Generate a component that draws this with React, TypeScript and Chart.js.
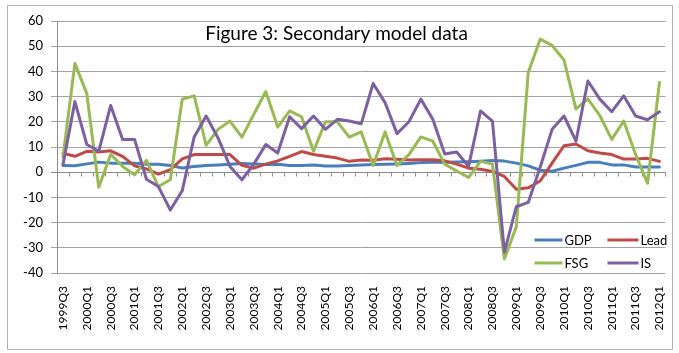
import React, { useEffect, useRef } from 'react';
import { Chart, registerables } from 'chart.js';

Chart.register(...registerables);

const quarters = [
  '1999Q3', '1999Q4',
  '2000Q1', '2000Q2', '2000Q3', '2000Q4',
  '2001Q1', '2001Q2', '2001Q3', '2001Q4',
  '2002Q1', '2002Q2', '2002Q3', '2002Q4',
  '2003Q1', '2003Q2', '2003Q3', '2003Q4',
  '2004Q1', '2004Q2', '2004Q3', '2004Q4',
  '2005Q1', '2005Q2', '2005Q3', '2005Q4',
  '2006Q1', '2006Q2', '2006Q3', '2006Q4',
  '2007Q1', '2007Q2', '2007Q3', '2007Q4',
  '2008Q1', '2008Q2', '2008Q3', '2008Q4',
  '2009Q1', '2009Q2', '2009Q3', '2009Q4',
  '2010Q1', '2010Q2', '2010Q3', '2010Q4',
  '2011Q1', '2011Q2', '2011Q3', '2011Q4',
  '2012Q1',
];

const gdp = [
  2.7, 2.6, 3.3, 4.0, 3.6, 3.6, 3.6, 3.2, 3.2, 2.7,
  1.7, 2.3, 2.7, 2.9, 3.2, 3.5, 3.3, 3.1, 3.2, 2.7,
  2.7, 2.9, 2.5, 2.5, 2.7, 2.9, 3.1, 3.2, 3.3, 3.5,
  3.8, 3.9, 3.9, 4.0, 4.1, 4.3, 4.6, 4.4, 3.6, 2.5,
  0.8, 0.4, 1.6, 2.7, 3.9, 3.9, 2.9, 2.9, 2.1, 2.1,
  2.1,
];

const lead = [
  7.5, 6.3, 8.3, 8.0, 8.5, 6.3, 2.5, 1.3, -0.8, 1.0,
  5.3, 7.0, 7.0, 7.0, 7.0, 2.7, 1.6, 3.2, 4.5, 6.3,
  8.2, 7.0, 6.3, 5.6, 4.3, 4.8, 4.7, 5.3, 5.1, 4.8,
  4.9, 4.9, 4.5, 3.2, 1.6, 1.2, 0.3, -1.7, -6.8, -6.2,
  -3.5, 3.6, 10.5, 11.2, 8.5, 7.6, 7.0, 5.2, 5.2, 5.5,
  4.3,
];

const fsg = [
  6.0, 43.2, 31.2, -6.0, 7.0, 2.3, -1.0, 4.7, -5.7, -3.0,
  29.0, 30.3, 10.7, 17.0, 20.3, 13.9, 23.0, 32.0, 17.9, 24.3,
  22.0, 8.3, 20.0, 20.0, 13.9, 16.0, 2.7, 16.0, 2.7, 7.0,
  14.0, 12.3, 3.2, 0.5, -2.1, 4.3, 3.2, -34.4, -21.7, 39.6,
  52.8, 50.3, 44.5, 25.1, 29.1, 22.5, 13.0, 20.3, 7.0, -4.4,
  35.6,
];

const is = [
  2.9, 28.0, 11.0, 8.3, 26.5, 13.0, 13.0, -2.8, -5.7, -15.0,
  -7.3, 14.0, 22.3, 13.6, 2.3, -3.0, 3.2, 11.0, 7.6, 22.0,
  17.3, 22.3, 17.0, 21.0, 20.3, 19.2, 35.2, 27.6, 15.3, 20.0,
  29.0, 21.0, 7.2, 8.0, 2.3, 24.3, 20.3, -31.7, -13.7, -12.0,
  2.0, 17.0, 22.3, 12.3, 36.2, 29.0, 24.0, 30.3, 22.3, 20.8,
  24.0,
];

const yTicks = { min: -40, max: 60, step: 10 };

const titleText = 'Figure 3: Secondary model data';

const FONT = 'Lato, "Open Sans", sans-serif';

const decorPlugin = {
  id: 'decor',
  beforeDraw(chart: any) {
    const { ctx, width, height } = chart;
    ctx.save();
    ctx.fillStyle = '#ffffff';
    ctx.fillRect(0, 0, width, height);
    ctx.strokeStyle = '#b4b4b4';
    ctx.lineWidth = 1;
    ctx.strokeRect(7.5, 5.5, width - 14, height - 9);
    ctx.restore();
  },
  beforeDatasetsDraw(chart: any) {
    const { ctx, chartArea } = chart;
    const xs = chart.scales.x;
    const ys = chart.scales.y;
    const y0 = Math.round(ys.getPixelForValue(0)) + 0.5;
    ctx.save();
    ctx.strokeStyle = '#8c8c8c';
    ctx.lineWidth = 1;
    ctx.beginPath();
    ctx.moveTo(chartArea.left - 6, y0);
    ctx.lineTo(chartArea.right, y0);
    const n = chart.data.labels.length;
    const w = (chartArea.right - chartArea.left) / n;
    for (let k = 0; k <= n; k++) {
      const x = Math.round(xs.left + k * w) + 0.5;
      ctx.moveTo(x, y0);
      ctx.lineTo(x, y0 + 4);
    }
    ctx.stroke();
    ctx.restore();
  },
  afterDraw(chart: any) {
    const { ctx, chartArea, width } = chart;
    ctx.save();
    // title
    ctx.fillStyle = '#000000';
    ctx.font = `19px ${FONT}`;
    ctx.textAlign = 'center';
    ctx.textBaseline = 'alphabetic';
    ctx.fillText(titleText, width / 2 - 3, 40);

    // legend 2x2
    const ds = chart.data.datasets;
    const colX = [chartArea.right - 131, chartArea.right - 58];
    const rowY = [chartArea.bottom - 33, chartArea.bottom - 10];
    ctx.font = `13px ${FONT}`;
    ctx.textAlign = 'left';
    ctx.textBaseline = 'middle';
    ds.forEach((d: any, i: number) => {
      const cx = colX[i % 2];
      const cy = rowY[Math.floor(i / 2)];
      const lineLen = i % 2 === 0 ? 28 : 31;
      ctx.strokeStyle = d.borderColor;
      ctx.lineWidth = 3;
      ctx.beginPath();
      ctx.moveTo(cx, cy);
      ctx.lineTo(cx + lineLen, cy);
      ctx.stroke();
      ctx.fillStyle = '#000000';
      ctx.fillText(d.label, cx + lineLen + 2, cy + 1);
    });
    ctx.restore();
  },
};

export default function App() {
  const canvasRef = useRef<HTMLCanvasElement | null>(null);

  useEffect(() => {
    if (!canvasRef.current) return;
    const mk = (label: string, data: number[], color: string, order: number) => ({
      label,
      data,
      borderColor: color,
      backgroundColor: color,
      borderWidth: 3,
      pointRadius: 0,
      tension: 0,
      borderJoinStyle: 'round' as const,
      borderCapStyle: 'round' as const,
      order,
    });
    const chart = new Chart(canvasRef.current, {
      type: 'line',
      data: {
        labels: quarters,
        datasets: [
          mk('GDP', gdp, '#4a7ebb', 4),
          mk('Lead', lead, '#be4b48', 3),
          mk('FSG', fsg, '#98b954', 2),
          mk('IS', is, '#7d60a0', 1),
        ],
      },
      options: {
        animation: false,
        responsive: true,
        maintainAspectRatio: false,
        layout: { padding: { left: 0, top: 21, right: 13, bottom: 0 } },
        plugins: {
          legend: { display: false },
          title: { display: false },
          tooltip: { enabled: false },
        },
        scales: {
          x: {
            type: 'category',
            offset: true,
            grid: { display: false },
            border: { display: false },
            ticks: {
              autoSkip: false,
              minRotation: 90,
              maxRotation: 90,
              padding: 5,
              color: '#000000',
              font: { family: FONT, size: 12 },
              callback: (_v: any, i: number) => (i % 2 === 0 ? quarters[i] : ''),
            },
            afterFit: (s: any) => {
              s.height = 80;
            },
          },
          y: {
            min: yTicks.min,
            max: yTicks.max,
            grid: {
              color: '#a3a3a3',
              lineWidth: 1,
              drawTicks: true,
              tickLength: 6,
            },
            border: { display: true, color: '#8c8c8c' },
            ticks: {
              stepSize: yTicks.step,
              padding: 8,
              color: '#000000',
              font: { family: FONT, size: 13 },
            },
            afterFit: (s: any) => {
              s.width = 57;
            },
          },
        },
      },
      plugins: [decorPlugin],
    });
    return () => chart.destroy();
  }, []);

  return (
    <div style={{ position: 'fixed', left: 0, top: 0, width: 679, height: 353, background: '#fff' }}>
      <canvas ref={canvasRef} />
    </div>
  );
}
